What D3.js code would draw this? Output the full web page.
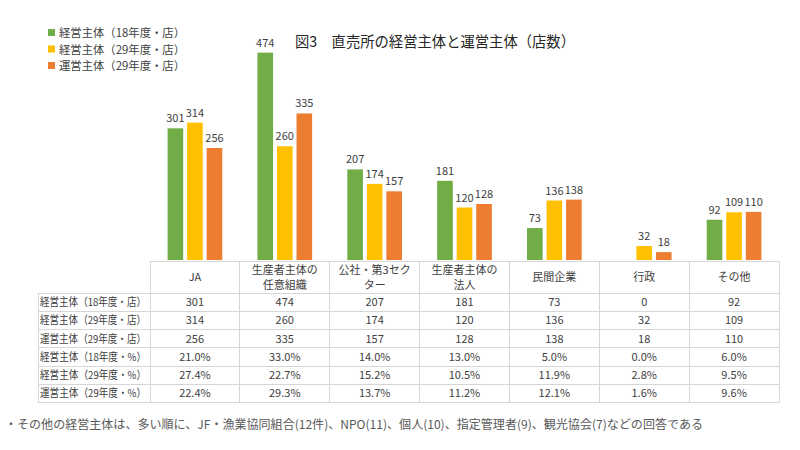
<!DOCTYPE html>
<html><head><meta charset="utf-8">
<script src="https://cdn.jsdelivr.net/npm/d3@7"></script>
<style>
body{margin:0;background:#fff;}
svg{font-family:"Noto Sans CJK JP","Noto Sans",sans-serif;}
</style></head>
<body><svg id="c" width="800" height="450"></svg>
<script>
const categories = ["JA","生産者主体の任意組織","公社・第3セクター","生産者主体の法人","民間企業","行政","その他"];
const headerLines = [["JA"],["生産者主体の","任意組織"],["公社・第3セク","ター"],["生産者主体の","法人"],["民間企業"],["行政"],["その他"]];
const seriesNames = ["経営主体（18年度・店）","経営主体（29年度・店）","運営主体（29年度・店）"];
const seriesColors = ["#70ad47","#ffc000","#ed7d31"];
const keiei18 = [301,474,207,181,73,0,92];
const keiei29 = [314,260,174,120,136,32,109];
const unei29 = [256,335,157,128,138,18,110];
const pctNames = ["経営主体（18年度・%）","経営主体（29年度・%）","運営主体（29年度・%）"];
const keiei18pct = ["21.0%","33.0%","14.0%","13.0%","5.0%","0.0%","6.0%"];
const keiei29pct = ["27.4%","22.7%","15.2%","10.5%","11.9%","2.8%","9.5%"];
const unei29pct = ["22.4%","29.3%","13.7%","11.2%","12.1%","1.6%","9.6%"];
const title = "図3　直売所の経営主体と運営主体（店数）";
const footnote = "・その他の経営主体は、多い順に、JF・漁業協同組合(12件)、NPO(11)、個人(10)、指定管理者(9)、観光協会(7)などの回答である";

const series = [keiei18, keiei29, unei29];
const svg = d3.select("#c");

const x = d3.scaleBand().domain(categories).range([150, 779]).padding(0);
const xi = d3.scaleBand().domain(d3.range(3)).range([0, x.bandwidth()]).paddingInner(0.2).paddingOuter(0.9);
const y = d3.scaleLinear().domain([0, 500]).range([260, 41.25]);

// bars
series.forEach((vals, si) => {
  const g = svg.append("g");
  vals.forEach((d, i) => {
    const bx = x(categories[i]) + xi(si);
    g.append("rect")
      .attr("x", bx).attr("y", y(d))
      .attr("width", xi.bandwidth())
      .attr("height", y(0) - y(d))
      .attr("fill", seriesColors[si]);
    if (d > 0) {
      g.append("text")
        .attr("x", bx + xi.bandwidth() / 2)
        .attr("y", y(d) - 6)
        .attr("text-anchor", "middle")
        .attr("font-size", 11).attr("fill", "#404040")
        .text(d);
    }
  });
});

// title
svg.append("text").attr("x", 295).attr("y", 47).attr("font-size", 15).attr("fill", "#262626")
  .attr("textLength", 280).attr("lengthAdjust", "spacingAndGlyphs").text(title);

// legend
seriesNames.forEach((n, i) => {
  const ly = 33 + i * 16.5;
  svg.append("rect").attr("x", 48).attr("y", ly - 4).attr("width", 7).attr("height", 7).attr("fill", seriesColors[i]);
  svg.append("text").attr("x", 59).attr("y", ly + 4.2).attr("font-size", 11.3).attr("fill", "#404040")
    .attr("textLength", 126).attr("lengthAdjust", "spacingAndGlyphs").text(n);
});

// table
const rowTop = 261, headerBottom = 293, rowH = 18.25;
const rows = [
  {name: seriesNames[0], vals: keiei18},
  {name: seriesNames[1], vals: keiei29},
  {name: seriesNames[2], vals: unei29},
  {name: pctNames[0], vals: keiei18pct},
  {name: pctNames[1], vals: keiei29pct},
  {name: pctNames[2], vals: unei29pct}
];
const tableBottom = headerBottom + rows.length * rowH;
const grid = svg.append("g").attr("stroke", "#d6d6d6").attr("stroke-width", 1).attr("shape-rendering", "crispEdges");
grid.append("line").attr("x1", 150).attr("x2", 779).attr("y1", rowTop).attr("y2", rowTop);
for (let r = 0; r <= rows.length; r++) {
  const yy = headerBottom + r * rowH;
  grid.append("line").attr("x1", 38).attr("x2", 779).attr("y1", yy).attr("y2", yy);
}
grid.append("line").attr("x1", 38).attr("x2", 38).attr("y1", headerBottom).attr("y2", tableBottom);
categories.forEach(c => {
  grid.append("line").attr("x1", x(c)).attr("x2", x(c)).attr("y1", rowTop).attr("y2", tableBottom);
});
grid.append("line").attr("x1", 779).attr("x2", 779).attr("y1", rowTop).attr("y2", tableBottom);

// header labels
headerLines.forEach((lines, i) => {
  const cx = x(categories[i]) + x.bandwidth() / 2;
  const t = svg.append("text").attr("text-anchor", "middle").attr("font-size", 11).attr("fill", "#404040");
  if (lines.length === 1) {
    t.append("tspan").attr("x", cx).attr("y", 281).text(lines[0]);
  } else {
    t.append("tspan").attr("x", cx).attr("y", 274).text(lines[0]);
    t.append("tspan").attr("x", cx).attr("y", 289).text(lines[1]);
  }
});
// rows
rows.forEach((row, r) => {
  const yy = headerBottom + r * rowH + rowH / 2 + 4;
  svg.append("text").attr("x", 40).attr("y", yy).attr("font-size", 11).attr("fill", "#404040")
    .attr("textLength", 106).attr("lengthAdjust", "spacingAndGlyphs").text(row.name);
  row.vals.forEach((v, i) => {
    svg.append("text").attr("x", x(categories[i]) + x.bandwidth() / 2).attr("y", yy)
      .attr("text-anchor", "middle").attr("font-size", 11).attr("fill", "#404040").text(v);
  });
});

// footnote
svg.append("text").attr("x", 5).attr("y", 429).attr("font-size", 12).attr("fill", "#595959")
  .attr("textLength", 698).attr("lengthAdjust", "spacingAndGlyphs").text(footnote);
</script></body></html>
